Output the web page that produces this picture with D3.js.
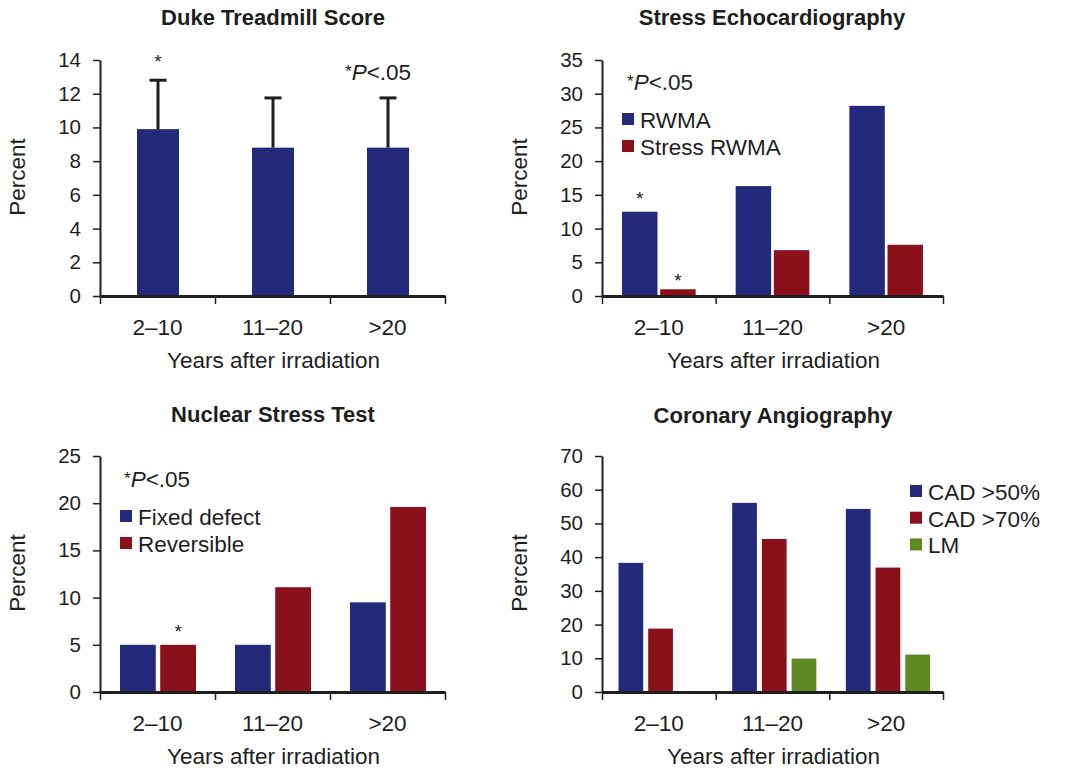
<!DOCTYPE html>
<html>
<head>
<meta charset="utf-8">
<script src="https://cdn.jsdelivr.net/npm/d3@7"></script>
<style>
  html, body { margin: 0; padding: 0; background: #fff; }
  svg { display: block; font-family: "Liberation Sans", Arial, Helvetica, sans-serif; }
</style>
</head>
<body>
<svg id="chart" width="1075" height="771"></svg>
<script>
// ---------- data ----------
const categories = ["2–10", "11–20", ">20"];

const dukeTicks = [0, 2, 4, 6, 8, 10, 12, 14];
const dukeScore = [9.9, 8.8, 8.8];
const dukeErrorUpper = [12.8, 11.75, 11.75];

const echoTicks = [0, 5, 10, 15, 20, 25, 30, 35];
const echoRWMA = [12.5, 16.3, 28.2];
const echoStressRWMA = [1.0, 6.8, 7.6];

const nuclearTicks = [0, 5, 10, 15, 20, 25];
const nuclearFixed = [5.0, 5.0, 9.5];
const nuclearReversible = [5.0, 11.1, 19.6];

const angioTicks = [0, 10, 20, 30, 40, 50, 60, 70];
const angioCAD50 = [38.3, 56.1, 54.3];
const angioCAD70 = [18.8, 45.4, 36.9];
const angioLM = [0, 9.9, 11.1];

const panelTitles = ["Duke Treadmill Score", "Stress Echocardiography", "Nuclear Stress Test", "Coronary Angiography"];
const echoLegend = ["RWMA", "Stress RWMA"];
const nuclearLegend = ["Fixed defect", "Reversible"];
const angioLegend = ["CAD >50%", "CAD >70%", "LM"];

// significance markers: [category index, series index, y value of marker]
const dukeStars = [[0, 0, 14.2]];
const echoStars = [[0, 0, 15.1], [0, 1, 3.0]];
const nuclearStars = [[0, 1, 6.9]];

// ---------- styles ----------
const BLUE = "#242a7b", RED = "#8a111c", GREEN = "#5e8a23", INK = "#1e1e1e";
const LABEL = "22.5px", TICK = "20.5px";

const svg = d3.select("#chart");

function panel(cfg) {
  const g = svg.append("g");
  const x = d3.scaleBand().domain(categories).range([cfg.x0, cfg.x1]).padding(0);
  const y = d3.scaleLinear().domain([0, cfg.ymax]).range([cfg.y0, cfg.yTop]);
  const names = cfg.series.map(s => s.name);
  const inner = d3.scaleBand().domain(names)
    .range([cfg.padL, x.bandwidth() - cfg.padR]).paddingInner(cfg.gap);

  // bars
  cfg.series.forEach(s => {
    g.append("g").selectAll("rect").data(s.values.map((v, i) => ({ v, c: categories[i] })))
      .join("rect")
      .filter(d => d.v > 0)
      .attr("x", d => x(d.c) + inner(s.name))
      .attr("width", inner.bandwidth())
      .attr("y", d => y(d.v))
      .attr("height", d => y(0) - y(d.v))
      .attr("fill", s.color);
  });

  // error bars
  if (cfg.err) {
    const s = cfg.series[0];
    const eg = g.append("g").attr("stroke", INK).attr("stroke-width", 3);
    cfg.err.forEach((e, i) => {
      const cx = x(categories[i]) + inner(s.name) + inner.bandwidth() / 2;
      eg.append("line").attr("x1", cx).attr("x2", cx).attr("y1", y(s.values[i])).attr("y2", y(e));
      eg.append("line").attr("x1", cx - 8.5).attr("x2", cx + 8.5).attr("y1", y(e)).attr("y2", y(e));
    });
  }

  // stars
  (cfg.stars || []).forEach(([ci, si, v]) => {
    g.append("text")
      .attr("x", x(categories[ci]) + inner(names[si]) + inner.bandwidth() / 2)
      .attr("y", y(v) + 11)
      .attr("text-anchor", "middle")
      .style("font-size", "19px").attr("fill", INK).text("*");
  });

  // y axis
  g.append("g").attr("transform", `translate(${cfg.x0},0)`)
    .call(d3.axisLeft(y).tickValues(cfg.ticks).tickSize(7).tickSizeOuter(0).tickPadding(12))
    .call(a => {
      a.select(".domain").attr("stroke", INK).attr("stroke-width", 2);
      a.selectAll(".tick line").attr("stroke", INK).attr("stroke-width", 1.5);
      a.selectAll("text").attr("fill", INK).style("font-size", TICK).style("font-family", "Liberation Sans, Arial, sans-serif");
    });

  // x axis boundaries
  const xb = d3.scaleLinear().domain([0, categories.length]).range([cfg.x0, cfg.x1]);
  g.append("g").attr("transform", `translate(0,${cfg.y0})`)
    .call(d3.axisBottom(xb).tickValues(d3.range(categories.length + 1)).tickSize(8).tickSizeOuter(0).tickFormat(""))
    .call(a => {
      a.select(".domain").attr("stroke", INK).attr("stroke-width", 3);
      a.selectAll(".tick line").attr("stroke", INK).attr("stroke-width", 1.5);
    });

  // category labels
  g.append("g").attr("transform", `translate(0,${cfg.y0})`)
    .call(d3.axisBottom(x).tickSize(0).tickPadding(23))
    .call(a => {
      a.select(".domain").remove();
      a.selectAll("text").attr("fill", INK).style("font-size", LABEL).style("font-family", "Liberation Sans, Arial, sans-serif");
    });

  // axis titles
  g.append("text").attr("x", (cfg.x0 + cfg.x1) / 2 + 1).attr("y", cfg.y0 + 72)
    .attr("text-anchor", "middle").style("font-size", LABEL).attr("fill", INK)
    .text("Years after irradiation");
  g.append("text")
    .attr("transform", `translate(${cfg.x0 - 75},${(cfg.y0 + cfg.yTop) / 2 - 1}) rotate(-90)`)
    .attr("text-anchor", "middle").style("font-size", LABEL).attr("fill", INK)
    .text("Percent");

  // title
  g.append("text").attr("x", cfg.titleX).attr("y", cfg.titleY)
    .attr("text-anchor", "middle").style("font-size", "22px").style("font-weight", "bold")
    .attr("fill", INK).text(cfg.title);

  // p note
  if (cfg.pNote) {
    const t = g.append("text").attr("x", cfg.pNote[0]).attr("y", cfg.pNote[1])
      .style("font-size", LABEL).attr("fill", INK);
    t.append("tspan").style("font-size", "17px").attr("dy", "-3").text("*");
    t.append("tspan").attr("dy", "3").style("font-style", "italic").text("P");
    t.append("tspan").text("<.05");
  }

  // legend
  if (cfg.legend) {
    const lg = g.append("g");
    cfg.legend.forEach((name, i) => {
      const ly = cfg.legendY + i * cfg.legendStep;
      lg.append("rect").attr("x", cfg.legendX).attr("y", ly - 15).attr("width", 12).attr("height", 12)
        .attr("fill", cfg.series[i].color);
      lg.append("text").attr("x", cfg.legendX + 18).attr("y", ly).style("font-size", LABEL)
        .attr("fill", INK).text(name);
    });
  }
}

panel({
  x0: 100, x1: 445, y0: 296, yTop: 60, ymax: 14, ticks: dukeTicks,
  series: [{ name: "score", values: dukeScore, color: BLUE }],
  padL: 37, padR: 36, gap: 0, err: dukeErrorUpper, stars: dukeStars,
  title: panelTitles[0], titleX: 273, titleY: 25, pNote: [345, 80]
});

panel({
  x0: 602, x1: 943, y0: 296, yTop: 60, ymax: 35, ticks: echoTicks,
  series: [{ name: echoLegend[0], values: echoRWMA, color: BLUE },
           { name: echoLegend[1], values: echoStressRWMA, color: RED }],
  padL: 20, padR: 20, gap: 0.07, stars: echoStars,
  title: panelTitles[1], titleX: 772, titleY: 25, pNote: [627, 90],
  legend: echoLegend, legendX: 622, legendY: 128, legendStep: 27
});

panel({
  x0: 100, x1: 445, y0: 692, yTop: 456, ymax: 25, ticks: nuclearTicks,
  series: [{ name: nuclearLegend[0], values: nuclearFixed, color: BLUE },
           { name: nuclearLegend[1], values: nuclearReversible, color: RED }],
  padL: 20, padR: 19, gap: 0.11, stars: nuclearStars,
  title: panelTitles[2], titleX: 273, titleY: 422, pNote: [124, 487],
  legend: nuclearLegend, legendX: 120, legendY: 525, legendStep: 27
});

panel({
  x0: 602, x1: 943, y0: 692, yTop: 456, ymax: 70, ticks: angioTicks,
  series: [{ name: angioLegend[0], values: angioCAD50, color: BLUE },
           { name: angioLegend[1], values: angioCAD70, color: RED },
           { name: angioLegend[2], values: angioLM, color: GREEN }],
  padL: 16.5, padR: 13, gap: 0.168,
  title: panelTitles[3], titleX: 773, titleY: 423,
  legend: angioLegend, legendX: 910, legendY: 500, legendStep: 26.7
});
</script>
</body>
</html>
